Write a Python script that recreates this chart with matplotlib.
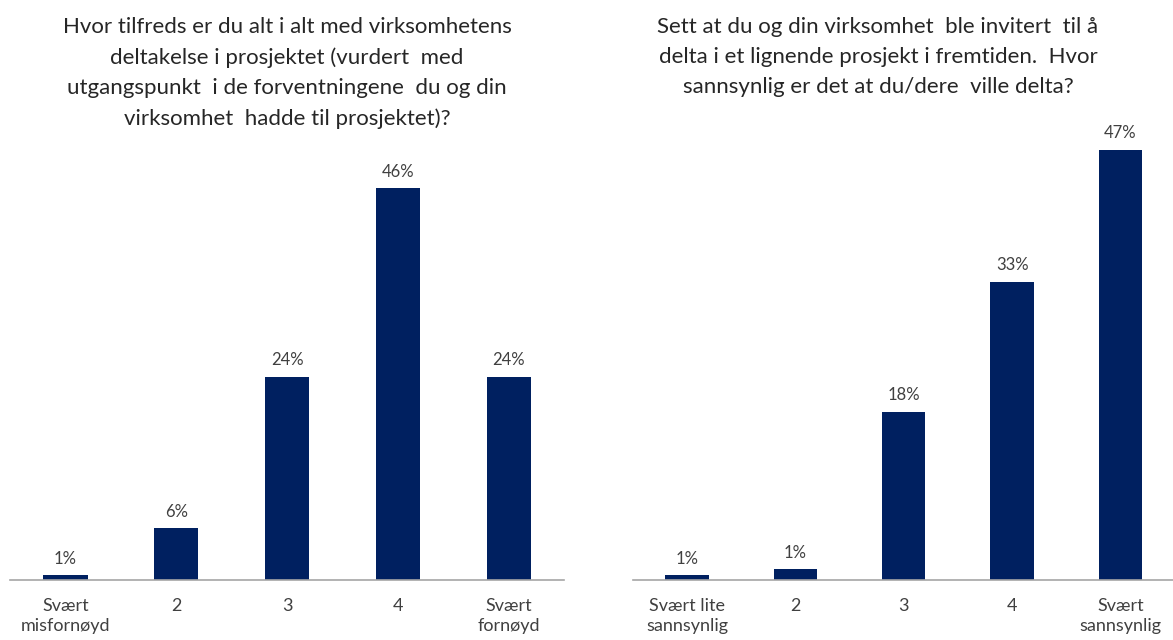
import matplotlib
matplotlib.use("Agg")
import matplotlib.pyplot as plt

plt.rcParams["font.family"] = ["Lato", "DejaVu Sans"]

# survey answers, share of respondents in percent
satisfaction_labels = ["Svært\nmisfornøyd", "2", "3", "4", "Svært\nfornøyd"]
satisfaction_values = [0.6, 6.1, 23.9, 46.0, 23.9]

participation_labels = ["Svært lite\nsannsynlig", "2", "3", "4", "Svært\nsannsynlig"]
participation_values = [0.55, 1.2, 18.4, 32.6, 47.0]

satisfaction_title = ("Hvor tilfreds er du alt i alt med virksomhetens\n"
                      "deltakelse i prosjektet (vurdert  med\n"
                      "utgangspunkt  i de forventningene  du og din\n"
                      "virksomhet  hadde til prosjektet)?")
participation_title = ("Sett at du og din virksomhet  ble invitert  til å\n"
                       "delta i et lignende prosjekt i fremtiden.  Hvor\n"
                       "sannsynlig er det at du/dere  ville delta?")

bar_color = "#002060"
text_color = "#404040"

fig = plt.figure(figsize=(11.73, 6.4), dpi=100)
ax1 = fig.add_axes([0.0085, 0.0933, 0.4725, 0.666])
ax2 = fig.add_axes([0.5394, 0.0933, 0.4621, 0.716])


def draw_bars(ax, labels, values):
    x = range(len(values))
    bars = ax.bar(x, values, width=0.4, color=bar_color, zorder=2)
    for b, v in zip(bars, values):
        ax.annotate(f"{v:.0f}%", (b.get_x() + b.get_width() / 2, v),
                    xytext=(0, 6), textcoords="offset points",
                    ha="center", va="bottom", fontsize=12, color=text_color)
    ax.set_xlim(-0.5, len(values) - 0.5)
    ax.set_ylim(0, 50)
    ax.set_xticks(list(x))
    ax.set_xticklabels(labels, fontsize=13, color=text_color, linespacing=1.3)
    ax.tick_params(axis="x", length=0, pad=13)
    ax.set_yticks([])
    for side in ["top", "right", "left"]:
        ax.spines[side].set_visible(False)
    ax.spines["bottom"].set_color("#A6A6A6")
    ax.spines["bottom"].set_linewidth(1.2)


draw_bars(ax1, satisfaction_labels, satisfaction_values)
draw_bars(ax2, participation_labels, participation_values)

fig.text(287 / 1173, 1 - 17 / 640, satisfaction_title, ha="center", va="top",
         fontsize=16, color="#262626", linespacing=1.62)
fig.text(878 / 1173, 1 - 17 / 640, participation_title, ha="center", va="top",
         fontsize=16, color="#262626", linespacing=1.62)

fig.savefig("out.png", dpi=100)
